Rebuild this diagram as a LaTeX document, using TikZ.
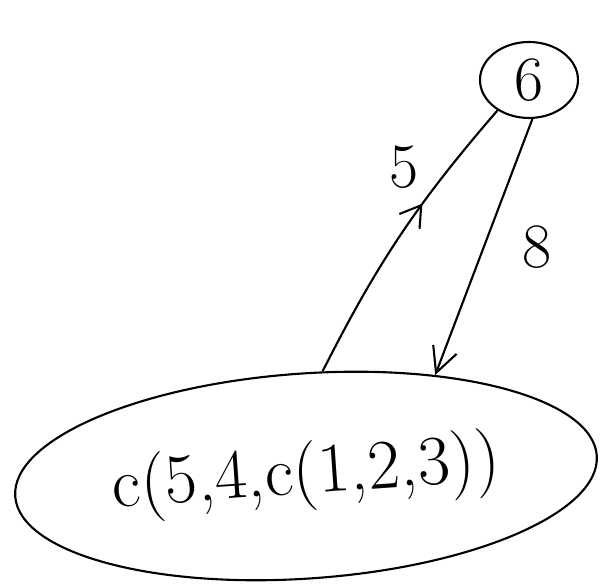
\documentclass[tikz,border=0pt]{standalone}
\usetikzlibrary{shapes.geometric,arrows.meta,decorations.markings}

\begin{document}
\begin{tikzpicture}[line width=1.2pt, every node/.style={font=\fontsize{36}{42}\selectfont}]
  \useasboundingbox (0,0) rectangle (12.08,11.7);
  \tikzset{
    blob/.style={draw, ellipse, inner sep=0pt},
    midarrow/.style={postaction={decorate}, decoration={markings,
      mark=at position 0.62 with {\arrow{Straight Barb[length=4mm,width=5mm]}}}}
  }
  % the value node and the term node
  \node[blob, minimum width=1.96cm, minimum height=1.52cm] (six) at (10.58,10.1) {6};
  \node[blob, minimum width=11.66cm, minimum height=4.1cm, rotate=4,
        font=\fontsize{40}{46}\selectfont] (term) at (6.12,2.18) {c(5,4,c(1,2,3))};
  % the two edges
  \draw[midarrow] (term.77) to[bend left=7] node[pos=0.78, left=14pt] {5} (six.224);
  \draw[-{Straight Barb[length=5mm,width=5mm]}] (six.275) -- node[pos=0.5, right=18pt] {8} (term.34);
\end{tikzpicture}
\end{document}
